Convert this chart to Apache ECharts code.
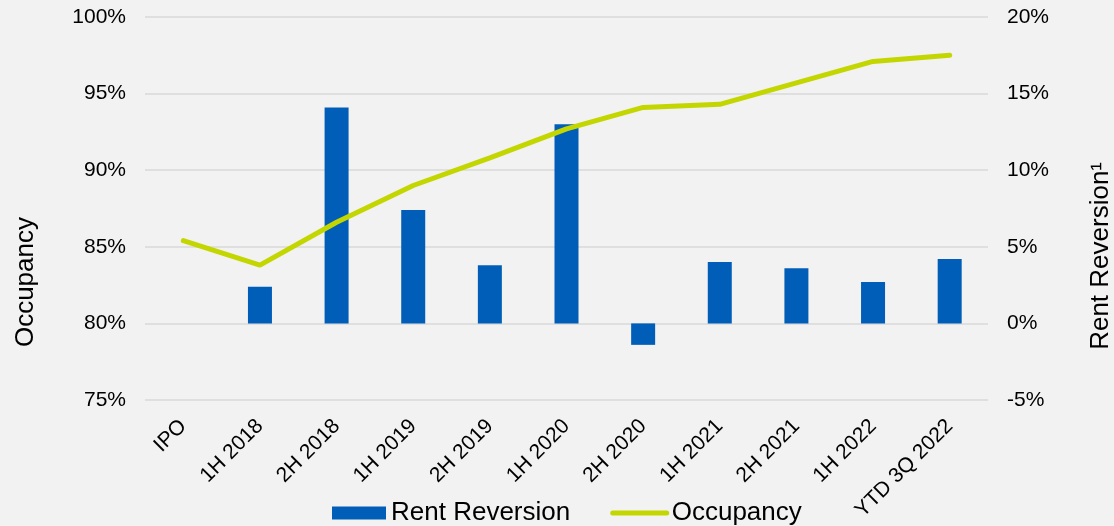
<!DOCTYPE html>
<html>
<head>
<meta charset="utf-8">
<script src="https://cdn.jsdelivr.net/npm/echarts@6/dist/echarts.min.js"></script>
<style>
  html, body { margin: 0; padding: 0; background: #f2f2f2; }
  #main { width: 1114px; height: 526px; }
</style>
</head>
<body>
<div id="main"></div>
<script>
// 数据
var categories = ['IPO', '1H 2018', '2H 2018', '1H 2019', '2H 2019', '1H 2020',
                  '2H 2020', '1H 2021', '2H 2021', '1H 2022', 'YTD 3Q 2022'];
var rentReversion = [null, 2.4, 14.1, 7.4, 3.8, 13.0, -1.4, 4.0, 3.6, 2.7, 4.2];
var occupancy = [85.4, 83.8, 86.6, 89.0, 90.8, 92.7, 94.1, 94.3, 95.7, 97.1, 97.5];

var font = 'Liberation Sans, Arial, sans-serif';
var myChart = echarts.init(document.getElementById('main'));

option = {
    backgroundColor: '#f2f2f2',
    textStyle: { fontFamily: font },
    grid: { left: 145, right: 126, top: 17, bottom: 126 },
    legend: {
        top: 495,
        left: 327,
        itemGap: 40,
        itemWidth: 54,
        itemHeight: 13,
        textStyle: { fontSize: 26, color: '#000', fontFamily: font },
        data: [
            { name: 'Rent Reversion', icon: 'rect' },
            { name: 'Occupancy', lineStyle: { width: 5, cap: 'round' }, itemStyle: { opacity: 0 } }
        ]
    },
    xAxis: {
        type: 'category',
        data: categories,
        axisLine: { show: false },
        axisTick: { show: false },
        axisLabel: { rotate: 45, fontSize: 21, color: '#000', margin: 23, interval: 0 }
    },
    yAxis: [{
        type: 'value',
        min: 75, max: 100, interval: 5,
        axisLabel: { formatter: '{value}%', fontSize: 21, color: '#000', margin: 19 },
        splitLine: { lineStyle: { color: '#d9d9d9', width: 1.5 } }
    }, {
        type: 'value',
        min: -5, max: 20, interval: 5,
        axisLabel: { formatter: '{value}%', fontSize: 21, color: '#000', margin: 19 },
        splitLine: { show: false }
    }],
    graphic: [{
        type: 'text', left: 13, top: 217, rotation: Math.PI / 2,
        style: { text: 'Occupancy', font: '26px ' + font, fill: '#000' }
    }, {
        type: 'text', left: 1088, top: 162, rotation: Math.PI / 2,
        style: { text: 'Rent Reversion\u00b9', font: '26px ' + font, fill: '#000' }
    }],
    series: [{
        name: 'Rent Reversion',
        type: 'bar',
        yAxisIndex: 1,
        barWidth: 24,
        itemStyle: { color: '#005eb8' },
        data: rentReversion
    }, {
        name: 'Occupancy',
        type: 'line',
        yAxisIndex: 0,
        symbol: 'none',
        lineStyle: { color: '#c4d600', width: 5, cap: 'round' },
        itemStyle: { color: '#c4d600' },
        data: occupancy
    }]
};

myChart.setOption(option);
</script>
</body>
</html>
